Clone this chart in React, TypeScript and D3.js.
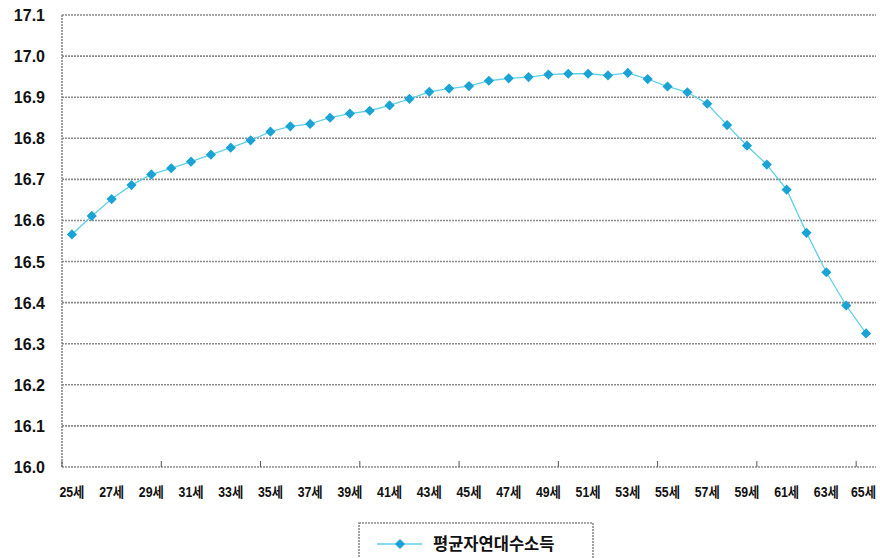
import React from "react";
import * as d3 from "d3";

const ages: number[] = [25,26,27,28,29,30,31,32,33,34,35,36,37,38,39,40,41,42,43,44,45,46,47,48,49,50,51,52,53,54,55,56,57,58,59,60,61,62,63,64,65];
const values: number[] = [16.566,16.611,16.652,16.686,16.712,16.727,16.743,16.760,16.777,16.795,16.816,16.829,16.835,16.850,16.860,16.867,16.880,16.896,16.913,16.921,16.927,16.940,16.946,16.949,16.955,16.957,16.957,16.953,16.959,16.944,16.926,16.912,16.884,16.832,16.782,16.736,16.675,16.570,16.474,16.393,16.325];
const yTicks: number[] = [16.0,16.1,16.2,16.3,16.4,16.5,16.6,16.7,16.8,16.9,17.0,17.1];
const xLabelAges: number[] = [25,27,29,31,33,35,37,39,41,43,45,47,49,51,53,55,57,59,61,63,65];
const seriesName = "평균자연대수소득";

const W = 880, H = 558;
const M = { left: 62, right: 876, top: 15, bottom: 467 };

export default function App() {
  const x = d3.scaleBand<number>().domain(ages).range([M.left, M.right]).padding(0);
  const y = d3.scaleLinear().domain([16.0, 17.1]).range([M.bottom, M.top]);
  const cx = (a: number) => (x(a) as number) + x.bandwidth() / 2;
  const line = d3.line<number>().x((_, i) => cx(ages[i])).y((v) => y(v));
  const diamond = d3.symbol().type(d3.symbolSquare).size(52)() as string;
  const tickIdx = d3.range(0, ages.length + 1, 5);
  const gridColor = "#8a8a8a";
  const dash = "2 1";
  const lineColor = "#5fd0e6";
  const markColor = "#1aa3d4";
  const labelW = 25;

  return (
    <svg width={W} height={H} style={{ position: "absolute", left: 0, top: 0, background: "#fff" }}>
      {yTicks.map((t) => (
        <line key={"g" + t} x1={M.left} x2={M.right} y1={y(t)} y2={y(t)} stroke={gridColor} strokeWidth={1.6} strokeDasharray={dash} />
      ))}
      <line x1={M.left} x2={M.left} y1={M.top} y2={M.bottom} stroke={gridColor} strokeWidth={1.6} strokeDasharray={dash} />
      {tickIdx.map((i) => {
        const xx = M.left + i * x.bandwidth();
        return <line key={"t" + i} x1={xx} x2={xx} y1={M.bottom} y2={M.bottom - 6} stroke="#555" strokeWidth={1} />;
      })}
      {yTicks.map((t) => (
        <text key={"yl" + t} x={45} y={y(t) + 6} textAnchor="end" fontFamily="Liberation Sans, Arial, sans-serif" fontSize={16} fontWeight="bold" fill="#111">
          {t.toFixed(1)}
        </text>
      ))}
      {xLabelAges.map((a) => (
        <text key={"xl" + a} x={Math.min(cx(a), W - 4 - labelW / 2)} y={497} textAnchor="middle" fontFamily="Liberation Sans, 'Noto Sans CJK KR', sans-serif" fontSize={14} fontWeight="bold" fill="#111" textLength={labelW} lengthAdjust="spacingAndGlyphs">
          {a + "세"}
        </text>
      ))}
      <path d={line(values) as string} fill="none" stroke={lineColor} strokeWidth={1.3} />
      {values.map((v, i) => (
        <path key={"m" + i} d={diamond} transform={`translate(${cx(ages[i])},${y(v)}) rotate(45)`} fill={markColor} />
      ))}
      <g>
        <rect x={359} y={523} width={234} height={50} fill="#fff" stroke={gridColor} strokeWidth={1.6} strokeDasharray={dash} />
        <line x1={377} x2={422} y1={544} y2={544} stroke={lineColor} strokeWidth={1.3} />
        <path d={diamond} transform="translate(400,544) rotate(45)" fill={markColor} />
        <text x={433} y={550} fontFamily="'Noto Sans CJK KR', sans-serif" fontSize={16.5} fontWeight="bold" fill="#111">
          {seriesName}
        </text>
      </g>
    </svg>
  );
}
